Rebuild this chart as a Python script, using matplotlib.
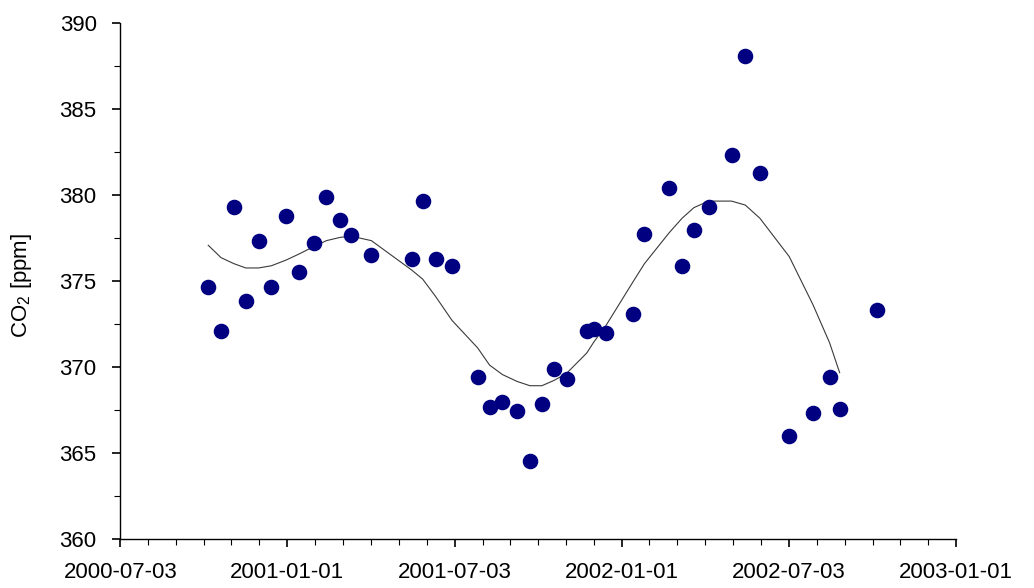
import numpy as np
import matplotlib
matplotlib.use("Agg")
import matplotlib.pyplot as plt
from matplotlib.ticker import MultipleLocator, FixedLocator

plt.rcParams['font.family'] = ['Liberation Sans', 'DejaVu Sans']
plt.rcParams['mathtext.default'] = 'regular'

# --- data ---
obs_dates = ["2000-10-07", "2000-10-21", "2000-11-04", "2000-11-17", "2000-12-01",
             "2000-12-15", "2000-12-31", "2001-01-14", "2001-01-30", "2001-02-13",
             "2001-02-28", "2001-03-12", "2001-04-03", "2001-05-17", "2001-05-29",
             "2001-06-12", "2001-06-30", "2001-07-28", "2001-08-10", "2001-08-24",
             "2001-09-09", "2001-09-23", "2001-10-06", "2001-10-19", "2001-11-02",
             "2001-11-24", "2001-12-02", "2001-12-15", "2002-01-13", "2002-01-26",
             "2002-02-22", "2002-03-08", "2002-03-21", "2002-04-06", "2002-05-01",
             "2002-05-16", "2002-06-01", "2002-07-03", "2002-07-29", "2002-08-16",
             "2002-08-27", "2002-10-07"]
co2 = [374.66, 372.08, 379.30, 373.81, 377.34,
       374.66, 378.79, 375.51, 377.20, 379.90,
       378.56, 377.69, 376.49, 376.25, 379.66,
       376.25, 375.88, 369.41, 367.68, 367.93,
       367.45, 364.50, 367.82, 369.89, 369.29,
       372.08, 372.22, 371.95, 373.07, 377.71,
       380.38, 375.88, 377.96, 379.30, 382.34,
       388.08, 381.26, 365.97, 367.31, 369.41,
       367.56, 373.30]

trend_dates = obs_dates[:-1]
trend = [377.07, 376.35, 376.00, 375.75, 375.75,
         375.88, 376.21, 376.56, 376.99, 377.34,
         377.53, 377.60, 377.34, 375.63, 375.10,
         374.10, 372.70, 371.10, 370.10, 369.55,
         369.15, 368.90, 368.90, 369.20, 369.62,
         370.80, 371.46, 372.40, 374.90, 376.00,
         377.80, 378.64, 379.26, 379.64, 379.64,
         379.41, 378.64, 376.41, 373.60, 371.40,
         369.66]

tick_labels = ["2000-07-03", "2001-01-01", "2001-07-03", "2002-01-01", "2002-07-03", "2003-01-01"]
y_ticks = [360, 365, 370, 375, 380, 385, 390]

# --- plot ---
x_obs = np.array(obs_dates, dtype="datetime64[D]")
x_trend = np.array(trend_dates, dtype="datetime64[D]")
x_ticks = np.array(tick_labels, dtype="datetime64[D]")

fig = plt.figure(figsize=(10.34, 5.88), dpi=100)
ax = fig.add_axes([0.1163, 0.0838, 0.8083, 0.8771])

ax.plot(x_trend, trend, color="#3a3a3a", lw=0.8, zorder=2)
ax.plot(x_obs, co2, linestyle="none", marker="o", markersize=10.2,
        markerfacecolor="#000080", markeredgecolor="#000080", zorder=3)

ax.set_xlim(x_ticks[0], x_ticks[-1])
ax.set_ylim(360, 390)

ax.set_xticks(x_ticks)
ax.set_xticklabels(tick_labels)
tick_nums = ax.get_xticks()
minor = []
for a, b in zip(tick_nums[:-1], tick_nums[1:]):
    minor.extend(np.linspace(a, b, 7)[1:-1])
ax.xaxis.set_minor_locator(FixedLocator(minor))

ax.set_yticks(y_ticks)
ax.yaxis.set_minor_locator(MultipleLocator(2.5))

for s in ("top", "right"):
    ax.spines[s].set_visible(False)
for s in ("left", "bottom"):
    ax.spines[s].set_linewidth(1.0)
    ax.spines[s].set_color("black")

ax.tick_params(axis="both", which="major", direction="out", length=6, width=1.2,
               labelsize=16, pad=11, colors="black")
ax.tick_params(axis="both", which="minor", direction="out", length=4.5, width=0.8)

ax.set_ylabel("CO$_2$ [ppm]", fontsize=16)
ax.yaxis.label.set_verticalalignment("center")
ax.yaxis.set_label_coords(-0.1176, 0.492)

fig.savefig("out.png", dpi=100)
